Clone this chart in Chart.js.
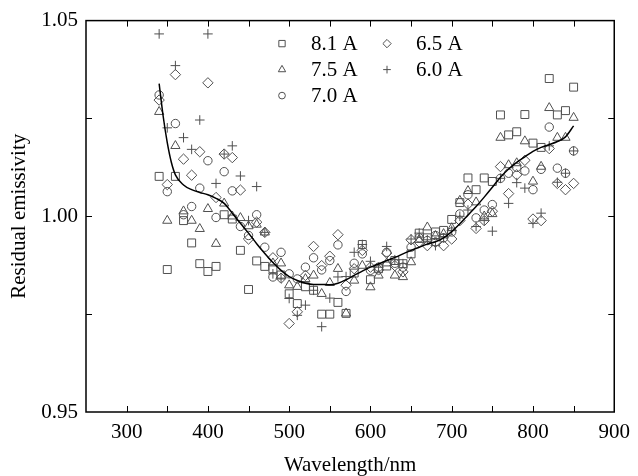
<!DOCTYPE html>
<html>
<head>
<meta charset="utf-8">
<script src="https://cdn.jsdelivr.net/npm/chart.js@4"></script>
<style>
  html, body { margin: 0; padding: 0; background: #fff; }
  #wrap { width: 638px; height: 476px; }
</style>
</head>
<body>
<div id="wrap"><canvas id="myChart"></canvas></div>
<script>
const wavelengths = [340, 350, 360, 370, 380, 390, 400, 410, 420, 430,
  440, 450, 460, 470, 480, 490, 500, 510, 520, 530,
  540, 550, 560, 570, 580, 590, 600, 610, 620, 630,
  640, 650, 660, 670, 680, 690, 700, 710, 720, 730,
  740, 750, 760, 770, 780, 790, 800, 810, 820, 830,
  840, 850];

const cur8_1 = [1.0102, 0.9864, 1.0102, 0.9989, 0.9932, 0.9879, 0.9859, 0.9872, 1.0004, 0.9993,
  0.9913, 0.9813, 0.9886, 0.9872, 0.9866, 0.9850, 0.9802, 0.9777, 0.9820, 0.9811,
  0.9750, 0.9750, 0.9780, 0.9752, 0.9855, 0.9928, 0.9838, 0.9866, 0.9873, 0.9887,
  0.9879, 0.9904, 0.9957, 0.9945, 0.9960, 0.9964, 0.9992, 1.0035, 1.0098, 1.0068,
  1.0098, 1.0089, 1.0259, 1.0208, 1.0216, 1.0260, 1.0187, 1.0176, 1.0352, 1.0259,
  1.0270, 1.0330];
const cur7_5 = [1.0267, 0.9989, 1.0180, 1.0013, 0.9989, 0.9968, 1.0019, 0.9930, 1.0033, 1.0000,
  0.9996, 0.9975, 0.9979, 0.9959, 0.9880, 0.9880, 0.9824, 0.9820, 0.9840, 0.9849,
  0.9802, 0.9830, 0.9866, 0.9752, 0.9836, 0.9874, 0.9819, 0.9849, 0.9880, 0.9849,
  0.9845, 0.9883, 0.9940, 0.9972, 0.9950, 0.9955, 0.9970, 1.0040, 1.0065, 1.0036,
  1.0000, 1.0006, 1.0201, 1.0131, 1.0136, 1.0192, 1.0089, 1.0127, 1.0277, 1.0201,
  1.0201, 1.0252];
const cur7_0 = [1.0310, 1.0063, 1.0237, 1.0004, 1.0025, 1.0072, 1.0142, 0.9997, 1.0114, 1.0065,
  0.9974, 0.9951, 1.0004, 0.9921, 0.9845, 0.9908, 0.9853, 0.9840, 0.9870, 0.9894,
  0.9863, 0.9887, 0.9927, 0.9808, 0.9880, 0.9904, 0.9862, 0.9870, 0.9908, 0.9880,
  0.9870, 0.9921, 0.9945, 0.9938, 0.9951, 0.9945, 0.9960, 1.0006, 1.0055, 0.9996,
  1.0016, 1.0030, 1.0097, 1.0110, 1.0125, 1.0116, 1.0068, 1.0120, 1.0228, 1.0123,
  1.0110, 1.0167];
const cur6_5 = [1.0297, 1.0081, 1.0362, 1.0146, 1.0105, 1.0165, 1.0341, 1.0048, 1.0159, 1.0150,
  1.0067, 0.9942, 0.9985, 0.9959, 0.9894, 0.9842, 0.9726, 0.9756, 0.9849, 0.9923,
  0.9874, 0.9898, 0.9953, 0.9824, 0.9866, 0.9913, 0.9870, 0.9863, 0.9906, 0.9874,
  0.9858, 0.9940, 0.9934, 0.9925, 0.9934, 0.9925, 0.9942, 0.9989, 1.0031, 0.9969,
  0.9989, 1.0013, 1.0127, 1.0058, 1.0106, 1.0143, 0.9993, 0.9989, 1.0173, 1.0084,
  1.0068, 1.0084];
const cur6_0 = [1.0466, 1.0226, 1.0385, 1.0201, 1.0171, 1.0246, 1.0466, 1.0084, 1.0159, 1.0180,
  1.0103, 0.9989, 1.0076, 0.9959, 0.9853, 0.9842, 0.9790, 0.9747, 0.9773, 0.9811,
  0.9718, 0.9791, 0.9845, 0.9846, 0.9908, 0.9928, 0.9885, 0.9870, 0.9923, 0.9889,
  0.9879, 0.9942, 0.9957, 0.9940, 0.9925, 0.9945, 0.9964, 1.0000, 1.0016, 0.9974,
  0.9989, 0.9962, 1.0097, 1.0033, 1.0086, 1.0072, 0.9982, 1.0008, 1.0180, 1.0087,
  1.0110, 1.0167];

// fitted curve
const fitX = [340, 345, 350, 355, 360, 370, 380, 390, 400, 410, 420, 430, 440, 450, 460, 470,
  480, 490, 500, 510, 520, 530, 540, 550, 560, 570, 580, 590, 600, 610, 620, 630, 640, 650,
  660, 670, 680, 690, 700, 710, 720, 730, 740, 750, 760, 770, 780, 790, 800, 810, 820, 830,
  840, 850];
const fitY = [1.0339, 1.0255, 1.0188, 1.0138, 1.0106, 1.0080, 1.0068, 1.0061, 1.0055, 1.0046,
  1.0033, 1.0008, 0.9982, 0.9957, 0.9930, 0.9905, 0.9882, 0.9862, 0.9846, 0.9836, 0.9829,
  0.9826, 0.9826, 0.9825, 0.9829, 0.9838, 0.9849, 0.9860, 0.9870, 0.9878, 0.9887, 0.9895,
  0.9904, 0.9913, 0.9921, 0.9929, 0.9935, 0.9945, 0.9961, 0.9981, 1.0003, 1.0025, 1.0049,
  1.0074, 1.0100, 1.0121, 1.0138, 1.0152, 1.0166, 1.0176, 1.0183, 1.0191, 1.0203, 1.0231];

const seriesLabels = ["8.1 A", "7.5 A", "7.0 A", "6.5 A", "6.0 A"];
const xTicks = [300, 400, 500, 600, 700, 800, 900];
const yTicks = [0.95, 1.00, 1.05];

const markGrey = "#505050";
const font = "'Liberation Serif', 'Times New Roman', serif";

function pts(ys) {
  return wavelengths.map((w, i) => ({ x: w, y: ys[i] }));
}

function marker(label, ys, style, r) {
  return {
    label: label,
    data: pts(ys),
    pointStyle: style,
    pointRadius: r,
    pointHoverRadius: r,
    borderColor: markGrey,
    backgroundColor: "rgba(0,0,0,0)",
    pointBorderWidth: 1,
    showLine: false,
    order: 1,
  };
}

// inward ticks on all sides, frame, legend inside the plot
const framePlugin = {
  id: "frame",
  afterDraw(chart) {
    const { ctx, chartArea: a, scales } = chart;
    ctx.save();
    ctx.strokeStyle = "#000";
    ctx.lineWidth = 1;
    ctx.beginPath();
    for (let v = 300; v <= 850; v += 50) {
      const x = Math.round(scales.x.getPixelForValue(v)) + 0.5;
      ctx.moveTo(x, a.bottom); ctx.lineTo(x, a.bottom - 6);
      ctx.moveTo(x, a.top); ctx.lineTo(x, a.top + 6);
    }
    [0.975, 1.0, 1.025].forEach((v) => {
      const y = Math.round(scales.y.getPixelForValue(v)) + 0.5;
      ctx.moveTo(a.left, y); ctx.lineTo(a.left + 6, y);
      ctx.moveTo(a.right, y); ctx.lineTo(a.right - 6, y);
    });
    ctx.stroke();
    ctx.lineWidth = 1.5;
    ctx.strokeRect(a.left, a.top, a.right - a.left, a.bottom - a.top);

    // legend, two columns
    const cols = [[0, 1, 2], [3, 4]];
    ctx.font = "21px " + font;
    ctx.textBaseline = "middle";
    cols.forEach((col, c) => {
      col.forEach((di, row) => {
        const ds = chart.data.datasets[di + 1];
        const mx = a.left + 196 + c * 105;
        const my = a.top + 23 + row * 26;
        ctx.strokeStyle = markGrey;
        ctx.fillStyle = "rgba(0,0,0,0)";
        ctx.lineWidth = 1;
        Chart.helpers.drawPoint(ctx, { pointStyle: ds.pointStyle, radius: ds.pointRadius * 0.8, borderWidth: 1 }, mx, my);
        ctx.fillStyle = "#000";
        ctx.fillText(ds.label, mx + 29, my + 1);
      });
    });
    ctx.restore();
  },
};

new Chart(document.getElementById("myChart"), {
  type: "scatter",
  data: {
    datasets: [
      {
        label: "fit",
        data: fitX.map((x, i) => ({ x: x, y: fitY[i] })),
        showLine: true,
        borderColor: "#000",
        borderWidth: 1.5,
        pointRadius: 0,
        cubicInterpolationMode: "monotone",
        order: 0,
      },
      marker(seriesLabels[0], cur8_1, "rect", 5.6),
      marker(seriesLabels[1], cur7_5, "triangle", 5.3),
      marker(seriesLabels[2], cur7_0, "circle", 4.2),
      marker(seriesLabels[3], cur6_5, "rectRot", 5.2),
      marker(seriesLabels[4], cur6_0, "cross", 4.8),
    ],
  },
  options: {
    responsive: true,
    maintainAspectRatio: false,
    animation: false,
    layout: { padding: { top: 19, right: 17, left: 0, bottom: 0 } },
    plugins: {
      legend: { display: false },
      tooltip: { enabled: false },
    },
    scales: {
      x: {
        type: "linear",
        min: 250,
        max: 900,
        grid: { display: false, drawTicks: false },
        border: { display: false },
        afterBuildTicks: (s) => { s.ticks = xTicks.map((v) => ({ value: v })); },
        afterFit: (s) => { s.height = 64; },
        ticks: { color: "#000", padding: 8, font: { family: font, size: 21 }, maxRotation: 0 },
        title: {
          display: true,
          text: "Wavelength/nm",
          color: "#000",
          font: { family: font, size: 21, lineHeight: 1 },
          padding: { top: 0, bottom: 0 },
        },
      },
      y: {
        type: "linear",
        min: 0.95,
        max: 1.05,
        grid: { display: false, drawTicks: false },
        border: { display: false },
        afterBuildTicks: (s) => { s.ticks = yTicks.map((v) => ({ value: v })); },
        afterFit: (s) => { s.width = 86; },
        ticks: {
          color: "#000",
          padding: 8,
          font: { family: font, size: 21 },
          callback: (v) => Number(v).toFixed(2),
        },
        title: {
          display: true,
          text: "Residual emissivity",
          color: "#000",
          font: { family: font, size: 21, lineHeight: 1 },
          padding: { top: 9, bottom: 0 },
        },
      },
    },
  },
  plugins: [framePlugin],
});
</script>
</body>
</html>
